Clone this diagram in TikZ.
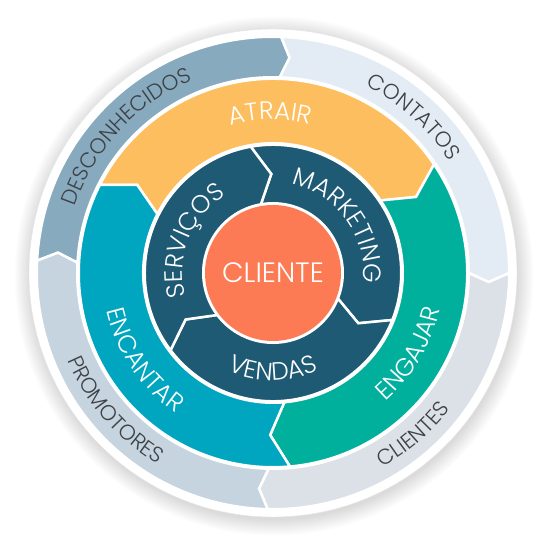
\documentclass[tikz,border=0pt]{standalone}
\usepackage{fontspec}
\setmainfont{Poppins}
\newfontfamily\plight{Poppins Light}
\usetikzlibrary{decorations.text}
\definecolor{cDesc}{HTML}{88AABF}
\definecolor{cCont}{HTML}{E3ECF4}
\definecolor{cClie}{HTML}{DCE1E8}
\definecolor{cProm}{HTML}{C6D4DF}
\definecolor{cAtr}{HTML}{FDBE5F}
\definecolor{cEng}{HTML}{00B09D}
\definecolor{cEnc}{HTML}{00A6BF}
\definecolor{cDark}{HTML}{1E5A74}
\definecolor{cCore}{HTML}{FC7B55}
\definecolor{cLabel}{HTML}{3E4246}
% #1 start angle (ccw end), #2 end angle (cw end), #3 rin, #4 rout, #5 tip depth, #6 colour
\newcommand{\ringseg}[6]{%
  \pgfmathsetmacro\rmid{(#3+#4)/2}%
  \filldraw[fill=#6, draw=white, line width=2.5pt, line join=miter]
    (#1:#4pt) arc[start angle=#1, end angle=#2, radius=#4pt]
    -- ({#2-#5}:\rmid pt) -- (#2:#3pt)
    arc[start angle=#2, end angle=#1, radius=#3pt]
    -- ({#1-#5}:\rmid pt) -- cycle;}
% #1 centre angle, #2 half span, #3 baseline radius, #4 colour, #5 font, #6 text
\newcommand{\cwtext}[6]{%
  \path[decorate, decoration={text along path, text align=center, text color=#4, text={|#5|#6}}]
    ({#1+#2}:#3pt) arc[start angle={#1+#2}, end angle={#1-#2}, radius=#3pt];}
\newcommand{\ccwtext}[6]{%
  \path[decorate, decoration={text along path, text align=center, text color=#4, text={|#5|#6}}]
    ({#1-#2}:#3pt) arc[start angle={#1-#2}, end angle={#1+#2}, radius=#3pt];}
\newcommand{\fouter}{\plight\fontsize{21.5}{22}\selectfont}
\newcommand{\fmid}{\plight\fontsize{25}{26}\selectfont}
\begin{document}
\begin{tikzpicture}
\useasboundingbox (-273pt,-277pt) rectangle (277pt,273pt);
\fill[white] (-273pt,-277pt) rectangle (277pt,273pt);
% soft shadow
\foreach \k in {0,...,11} {
  \pgfmathsetmacro\rr{244+\k*1.4}
  \fill[black, opacity=0.011] (1pt,-3pt) circle[radius=\rr pt];
}
\filldraw[fill=white, draw=black!10, line width=0.4pt] (0,0) circle[radius=244pt];
% outer ring
\ringseg{177}{88}{195.75}{236.25}{2.4}{cDesc}
\ringseg{88}{0}{195.75}{236.25}{2.4}{cCont}
\ringseg{0}{-91.3}{195.75}{236.25}{2.4}{cClie}
\ringseg{-91.3}{-183}{195.75}{236.25}{2.4}{cProm}
% middle ring
\ringseg{153}{34}{129.75}{194.25}{6}{cAtr}
\ringseg{34}{-85}{129.75}{194.25}{6}{cEng}
\ringseg{-85}{-207}{129.75}{194.25}{6}{cEnc}
% inner ring
\ringseg{100}{-21.5}{69.75}{128.25}{9}{cDark}
\ringseg{-21.5}{-143}{69.75}{128.25}{9}{cDark}
\ringseg{-143}{-260}{69.75}{128.25}{9}{cDark}
% core
\fill[cCore] (0,0) circle[radius=68pt];
\node[text=white, font=\plight\fontsize{28}{30}\selectfont] (core) at (0,0) {CLIENTE};
% outer labels
\cwtext{137}{45}{208.7}{cLabel}{\fouter}{DESCONHECIDOS}
\cwtext{48}{40}{208.7}{cLabel}{\fouter}{CONTATOS}
\ccwtext{-49}{40}{223.3}{cLabel}{\fouter}{CLIENTES}
\ccwtext{221}{40}{223.3}{cLabel}{\fouter}{PROMOTORES}
% middle labels
\cwtext{91}{40}{153.5}{white}{\fmid}{ATRAIR}
\ccwtext{-30.5}{40}{170.5}{white}{\fmid}{ENGAJAR}
\ccwtext{214}{40}{170.5}{white}{\fmid}{ENCANTAR}
% inner labels
\cwtext{158}{60}{90.5}{white}{\fmid}{SERVIÇOS}
\cwtext{36}{60}{90.5}{white}{\fmid}{MARKETING}
\ccwtext{-90}{60}{107.5}{white}{\fmid}{VENDAS}
\end{tikzpicture}
\end{document}
